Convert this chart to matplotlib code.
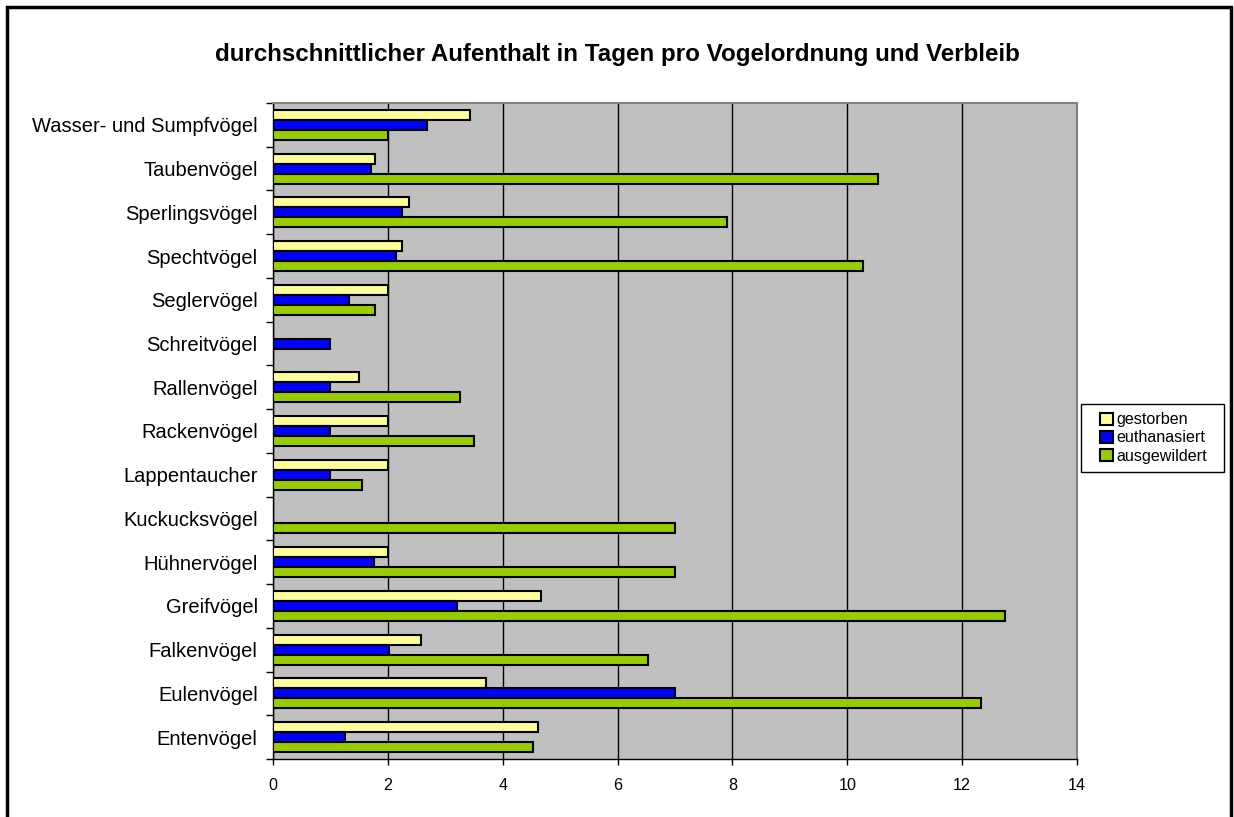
import numpy as np
import matplotlib.pyplot as plt
from matplotlib.patches import Rectangle

plt.rcParams['font.family'] = ['Liberation Sans', 'DejaVu Sans']

# categories from bottom to top
vogelordnung = ['Entenvögel', 'Eulenvögel', 'Falkenvögel', 'Greifvögel', 'Hühnervögel',
                'Kuckucksvögel', 'Lappentaucher', 'Rackenvögel', 'Rallenvögel', 'Schreitvögel',
                'Seglervögel', 'Spechtvögel', 'Sperlingsvögel', 'Taubenvögel',
                'Wasser- und Sumpfvögel']
gestorben = [4.62, 3.71, 2.57, 4.67, 2.0, 0, 2.0, 2.0, 1.5, 0, 2.0, 2.24, 2.36, 1.78, 3.43]
euthanasiert = [1.25, 7.0, 2.02, 3.2, 1.75, 0, 1.0, 1.0, 1.0, 1.0, 1.32, 2.15, 2.24, 1.71, 2.69]
ausgewildert = [4.52, 12.32, 6.53, 12.75, 7.0, 7.0, 1.55, 3.5, 3.25, 0, 1.78, 10.28, 7.9, 10.53, 2.0]
x_ticks = [0, 2, 4, 6, 8, 10, 12, 14]

W, H = 1234, 817
fig = plt.figure(figsize=(W / 100, H / 100), dpi=100)
ax = fig.add_axes([273 / W, 1 - 759 / H, (1077 - 273) / W, (759 - 103) / H])
ax.set_facecolor('#C0C0C0')

y = np.arange(len(vogelordnung))
h = 0.229
serien = [(gestorben, '#FFFF99', 'gestorben', h),
          (euthanasiert, '#0000FF', 'euthanasiert', 0),
          (ausgewildert, '#99CC00', 'ausgewildert', -h)]
for werte, farbe, name, off in serien:
    ax.barh(y + off, werte, height=h, color=farbe, edgecolor='black', linewidth=1.5,
            label=name, zorder=3)

ax.set_xlim(0, 14)
ax.set_ylim(-0.5, len(vogelordnung) - 0.5)
ax.set_xticks(x_ticks)
ax.set_xticklabels([str(t) for t in x_ticks], fontsize=11.6)
ax.set_yticks(y)
ax.set_yticklabels(vogelordnung, fontsize=14.5)
ax.set_yticks(np.arange(len(vogelordnung) + 1) - 0.5, minor=True)
ax.tick_params(axis='y', which='major', length=0, pad=11)
ax.tick_params(axis='y', which='minor', length=5, width=1, direction='out')
ax.tick_params(axis='x', length=4, width=1, pad=10)
ax.grid(axis='x', color='black', linewidth=1, zorder=1)
ax.set_axisbelow(True)

for s in ['top', 'right']:
    ax.spines[s].set_color('#808080')
    ax.spines[s].set_linewidth(1.5)
for s in ['left', 'bottom']:
    ax.spines[s].set_color('black')
    ax.spines[s].set_linewidth(1)

fig.text(0.5, 1 - 54 / H, 'durchschnittlicher Aufenthalt in Tagen pro Vogelordnung und Verbleib',
         ha='center', va='center', fontsize=17.4, fontweight='bold')

# legend without frame, box drawn separately (Excel-style wide padding)
leg = fig.legend(loc='center left', bbox_to_anchor=(1100 / W, 1 - 438 / H),
                 fontsize=11.6, frameon=False,
                 handlelength=0.8, handleheight=0.8, handletextpad=0.2,
                 borderpad=0, labelspacing=0.2, borderaxespad=0)
fig.patches.append(Rectangle((1081 / W, 1 - 472 / H), (1224 - 1081) / W, (472 - 404) / H,
                             transform=fig.transFigure, fill=False, edgecolor='black',
                             linewidth=1))

fig.patches.append(Rectangle((7 / W, -0.1), (1231 - 7) / W, 1.1 - 7 / H,
                             transform=fig.transFigure, fill=False, edgecolor='black',
                             linewidth=2.5, clip_on=False))

fig.savefig('out.png', dpi=100)
